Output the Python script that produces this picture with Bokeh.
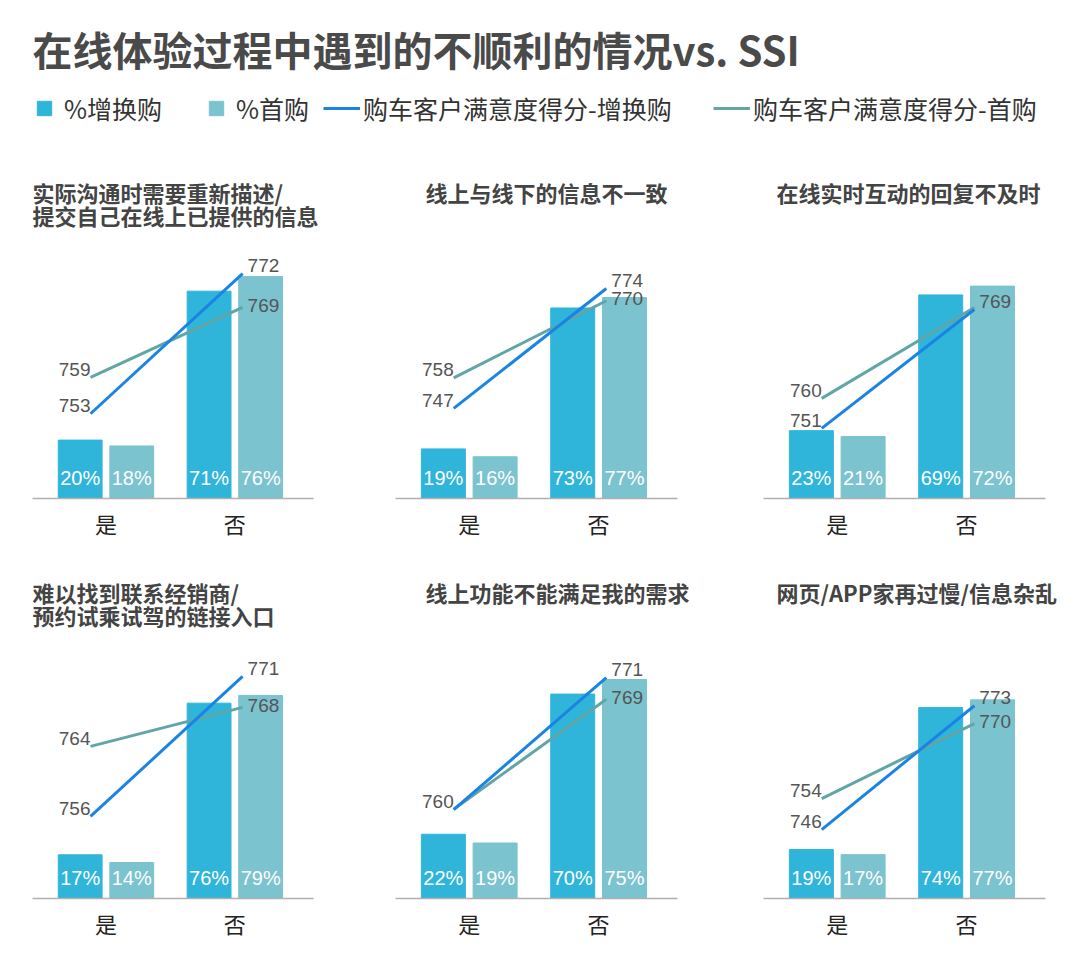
from bokeh.plotting import figure
from bokeh.models import Range1d, Legend, LegendItem, ColumnDataSource, FixedTicker, Label
from bokeh.layouts import column, row
from bokeh.transform import dodge
from bokeh.embed import file_html
from bokeh.resources import INLINE

# data
answers = ["是", "否"]
titles = [
    "实际沟通时需要重新描述/\n提交自己在线上已提供的信息",
    "线上与线下的信息不一致",
    "在线实时互动的回复不及时",
    "难以找到联系经销商/\n预约试乘试驾的链接入口",
    "线上功能不能满足我的需求",
    "网页/APP家再过慢/信息杂乱",
]
pct_up = [[20, 71], [19, 73], [23, 69], [17, 76], [22, 70], [19, 74]]
pct_first = [[18, 76], [16, 77], [21, 72], [14, 79], [19, 75], [17, 77]]
ssi_up = [[753, 772], [747, 774], [751, 769], [756, 771], [760, 771], [746, 773]]
ssi_first = [[759, 769], [758, 770], [760, 769], [764, 768], [760, 769], [754, 770]]

C_UP = "#2fb5da"
C_FIRST = "#7bc3cf"
L_UP = "#1b84e3"
L_FIRST = "#62a5a7"
CJK = "Noto Sans CJK SC"
NUM = "Liberation Sans"

# per-panel scales (px per unit) and axis starts, roughly as drawn in the original
pct_px = [2.92, 2.61, 2.95, 2.57, 2.92, 2.58]
up_scale = [(741.5, 7.37), (726.7, 4.44), (740.4, 6.61), (747.2, 9.33), (752.6, 12.0), (731.0, 4.59)]
first_scale = [(741.7, 7.0), (739.2, 6.42), (750.1, 10.11), (748.4, 9.75), (752.7, 12.22), (732.7, 4.69)]

FRAME_H = 350
X0, X_AXIS_END = -0.57, 1.61
EXTRA_R = 20  # room on the right for long headings
borders = [(32, 21), (41, 23), (43, 7)]
title_offsets = [0, 30, 13, 0, 30, 13]
line_offsets = [-0.12, 0.06]


def panel(i):
    left, right = borders[i % 3]
    fw = 282 if i % 3 else 281
    x_end = X_AXIS_END + EXTRA_R * (X_AXIS_END - X0) / fw
    p = figure(width=left + fw + EXTRA_R + right, height=FRAME_H + 50,
               x_range=Range1d(X0, x_end), y_range=Range1d(0, FRAME_H / pct_px[i]),
               output_backend="svg", toolbar_location=None,
               min_border_left=left, min_border_right=right,
               min_border_top=0, min_border_bottom=50)
    p.outline_line_color = None
    p.grid.visible = False
    p.yaxis.visible = False

    s0, k0 = up_scale[i]
    s1, k1 = first_scale[i]
    p.extra_y_ranges = {
        "up": Range1d(s0, s0 + FRAME_H / k0),
        "first": Range1d(s1, s1 + FRAME_H / k1),
    }

    src = ColumnDataSource(dict(
        x=[0, 1], up=pct_up[i], first=pct_first[i],
        up_lbl=[f"{v}%" for v in pct_up[i]], first_lbl=[f"{v}%" for v in pct_first[i]],
    ))
    p.vbar(x=dodge("x", -0.2), top="up", width=0.34, source=src, color=C_UP)
    p.vbar(x=dodge("x", 0.2), top="first", width=0.34, source=src, color=C_FIRST)
    for off, col in [(-0.2, "up_lbl"), (0.2, "first_lbl")]:
        p.text(x=dodge("x", off), y=0, text=col, source=src, y_offset=-21,
               text_align="center", text_baseline="middle", text_color="white",
               text_font_size="20px", text_font={"value": NUM})

    lx = [g + o for g, o in zip([0, 1], line_offsets)]
    p.line(lx, ssi_first[i], y_range_name="first", line_color=L_FIRST, line_width=3)
    p.line(lx, ssi_up[i], y_range_name="up", line_color=L_UP, line_width=3)

    for vals, rng, other in [(ssi_up[i], "up", None), (ssi_first[i], "first", ssi_up[i])]:
        for j in range(2):
            if other is not None and other[j] == vals[j]:
                continue  # same point, one label is enough
            dy = -2 if (other is not None and j == 1) else -8
            p.text(x=[lx[j]], y=[vals[j]], text=[str(vals[j])], y_range_name=rng,
                   x_offset=(0 if j == 0 else 5), y_offset=dy,
                   text_align=("right" if j == 0 else "left"), text_baseline="middle",
                   text_color="#555555", text_font_size="19px", text_font={"value": NUM})

    ax = p.xaxis[0]
    ax.bounds = (X0, X_AXIS_END)
    ax.ticker = FixedTicker(ticks=[0, 1])
    ax.major_label_overrides = {0: answers[0], 1: answers[1]}
    ax.major_tick_line_color = None
    ax.minor_tick_line_color = None
    ax.axis_line_color = "#b0b0b0"
    ax.axis_line_width = 1.5
    ax.major_label_text_font = CJK
    ax.major_label_text_font_size = "22px"
    ax.major_label_text_color = "#222222"
    ax.major_label_standoff = 2

    # panel heading at the top of the plot area
    p.add_layout(Label(x=X0, y=p.y_range.end, x_offset=title_offsets[i], y_offset=-27,
                       text=titles[i], text_align="left", text_baseline="top",
                       text_font=CJK, text_font_size="22px", text_font_style="bold",
                       text_color="#444444", text_line_height=0.74))
    return p


# header with the main title and the legend
head = figure(width=1072, height=148, x_range=Range1d(0, 1), y_range=Range1d(0, 1),
              output_backend="svg", toolbar_location=None,
              min_border_left=0, min_border_right=0, min_border_bottom=0, min_border_top=82)
head.outline_line_color = None
head.grid.visible = False
head.axis.visible = False
head.title.text = "在线体验过程中遇到的不顺利的情况vs. SSI"
head.title.offset = 32
head.title.text_font = CJK
head.title.text_font_size = "40px"
head.title.text_font_style = "bold"
head.title.text_color = "#4a4a4a"

# legend proxies, kept well outside the visible ranges
r1 = head.vbar(x=[-5], bottom=[-5], top=[-4], width=0.1, color=C_UP)
r2 = head.vbar(x=[-5], bottom=[-5], top=[-4], width=0.1, color=C_FIRST)
r3 = head.line(x=[-5, -4], y=[-5, -5], line_color=L_UP, line_width=3)
r4 = head.line(x=[-5, -4], y=[-5, -5], line_color=L_FIRST, line_width=3)
legend_specs = [
    ("%增换购", r1, 35, 18, 11),
    ("%首购", r2, 207, 18, 11),
    ("购车客户满意度得分-增换购", r3, 323, 37, 3),
    ("购车客户满意度得分-首购", r4, 713, 37, 3),
]
for label, r, x, gw, st in legend_specs:
    lg = Legend(items=[LegendItem(label=label, renderers=[r])], location=(x, 22),
                glyph_width=gw, glyph_height=18, label_standoff=st,
                padding=0, margin=0, border_line_color=None, background_fill_alpha=0,
                label_text_font=CJK, label_text_font_size="25px", label_text_color="#333333")
    head.add_layout(lg, "center")

panels = [panel(i) for i in range(6)]
layout = column(head, row(*panels[:3]), row(*panels[3:]))

open("out.html", "w").write(file_html(layout, INLINE))
